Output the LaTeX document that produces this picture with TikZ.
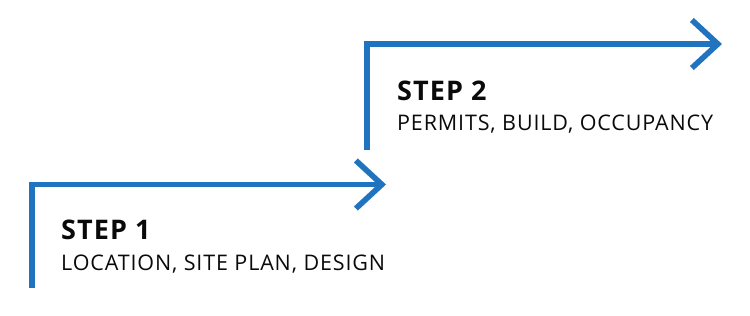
\documentclass[tikz,border=0pt]{standalone}
\usepackage{fontspec}
\setmainfont{Open Sans}
\newfontfamily\stepfont[LetterSpace=4]{Open Sans}
\usetikzlibrary{arrows.meta,positioning}
\definecolor{stBlue}{HTML}{1F73BF}
\definecolor{stInk} {HTML}{0A0A0A}

\begin{document}
\begin{tikzpicture}[x=1pt,y=1pt,
    steparrow/.style={draw=stBlue,line width=5.6pt,line join=miter,
      -{Straight Barb[length=26pt,width=48pt]}},
    steptitle/.style={anchor=base west,inner sep=0pt,text=stInk,
      font=\stepfont\bfseries\fontsize{27}{32}\selectfont},
    stepsub/.style={anchor=base west,inner sep=0pt,text=stInk,
      font=\stepfont\fontsize{21.5}{26}\selectfont}]
    \useasboundingbox (0,0) rectangle (750,316);

    % step 1
    \coordinate (s1base) at (32,28);
    \coordinate (s1tip)  at (386,131.5);
    \draw[steparrow] (s1base) |- (s1tip);
    \node[steptitle] (s1title) at (61,76) {STEP 1};
    \node[stepsub]   (s1sub)   at (61,45) {LOCATION, SITE PLAN, DESIGN};

    % step 2
    \coordinate (s2base) at (367,166);
    \coordinate (s2tip)  at (722,272);
    \draw[steparrow] (s2base) |- (s2tip);
    \node[steptitle] (s2title) at (397,215) {STEP 2};
    \node[stepsub]   (s2sub)   at (397,185) {PERMITS, BUILD, OCCUPANCY};
\end{tikzpicture}
\end{document}
